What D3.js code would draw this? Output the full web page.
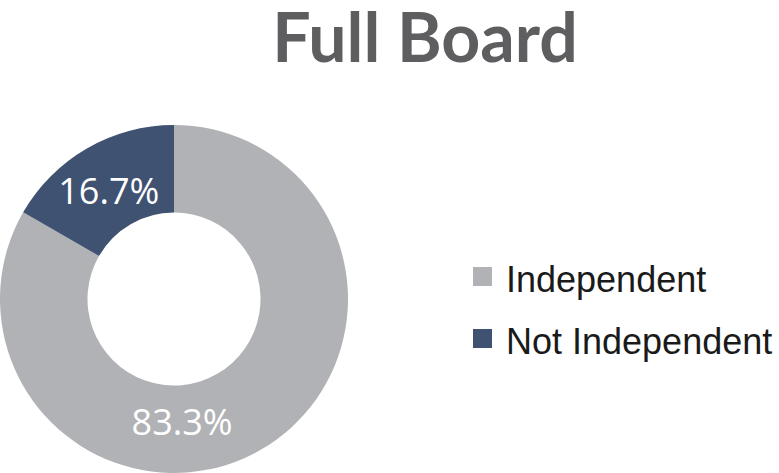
<!DOCTYPE html>
<html>
<head>
<meta charset="utf-8">
<script src="https://cdn.jsdelivr.net/npm/d3@7"></script>
<style>
  html, body { margin: 0; padding: 0; background: #fff; }
  svg { display: block; }
</style>
</head>
<body>
<svg id="chart" width="779" height="473"></svg>
<script>
const title = "Full Board";
const categories = ["Independent", "Not Independent"];
const values = [83.3, 16.7];
const labels = ["83.3%", "16.7%"];
const colors = ["#b1b2b5", "#3f5272"];

const svg = d3.select("#chart");
const W = 779, H = 473;

svg.append("text")
  .attr("x", 425)
  .attr("y", 62)
  .attr("text-anchor", "middle")
  .attr("font-family", "Lato, 'Open Sans', sans-serif")
  .attr("font-weight", "bold")
  .attr("font-size", 68)
  .attr("fill", "#5e5e61")
  .text(title);

const cx = 174, cy = 299, rOuter = 174, rInner = 86.5;
const g = svg.append("g").attr("transform", `translate(${cx},${cy})`);

const pie = d3.pie().sort(null).value(d => d.value);
const arcs = pie(categories.map((c, i) => ({ cat: c, value: values[i], label: labels[i], color: colors[i] })));
const arc = d3.arc().innerRadius(rInner).outerRadius(rOuter);

g.selectAll("path")
  .data(arcs)
  .join("path")
  .attr("d", arc)
  .attr("fill", d => d.data.color);

// label placement: centroid for small slice, Excel-style near-bottom for the large one
const labelPos = d => {
  if (d.endAngle - d.startAngle > Math.PI) {
    const a = Math.PI * 0.9785, r = 119;
    return [r * Math.sin(a), -r * Math.cos(a)];
  }
  return arc.centroid(d);
};

g.selectAll("text.lbl")
  .data(arcs)
  .join("text")
  .attr("class", "lbl")
  .attr("x", d => labelPos(d)[0])
  .attr("y", d => labelPos(d)[1])
  .attr("dy", "0.49em")
  .attr("text-anchor", "middle")
  .attr("font-family", "'Open Sans', sans-serif")
  .attr("font-size", 36)
  .attr("fill", "#ffffff")
  .text(d => d.data.label);

const legend = svg.append("g");
const ly = d3.scalePoint().domain(categories).range([277, 339]);
const items = legend.selectAll("g")
  .data(categories)
  .join("g")
  .attr("transform", d => `translate(473,${ly(d)})`);
items.append("rect")
  .attr("x", 0).attr("y", -10)
  .attr("width", 19).attr("height", 19)
  .attr("fill", (d, i) => colors[i]);
items.append("text")
  .attr("x", 33)
  .attr("y", 15)
  .attr("font-family", "'Liberation Sans', Arial, sans-serif")
  .attr("font-size", 36)
  .attr("fill", "#1a1a1a")
  .text(d => d);
</script>
</body>
</html>
